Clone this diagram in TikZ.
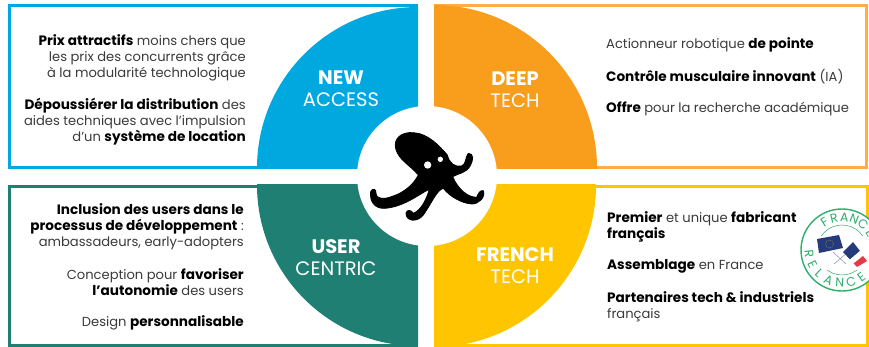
\documentclass[tikz,border=0pt]{standalone}
\usepackage{fontspec}
\setmainfont{Poppins}
\definecolor{cblue}{HTML}{00A8E0}
\definecolor{corange}{HTML}{F99D1C}
\definecolor{corangeb}{HTML}{FDAE45}
\definecolor{cgreen}{HTML}{1F7F72}
\definecolor{cyellow}{HTML}{FFC600}
\definecolor{ctxt}{HTML}{3A3A3A}
\definecolor{cfr}{HTML}{2FAE6B}
\definecolor{cnavy}{HTML}{243A7A}
\definecolor{cred}{HTML}{E63946}
\tikzset{x=1pt,y=-1pt,
  panel/.style={line width=3pt},
  body/.style={font=\fontsize{13.1}{16}\selectfont,text=ctxt,inner sep=0pt},
  bodyl/.style={body,align=left,anchor=west},
  bodyr/.style={body,align=right,anchor=east},
  head/.style={font=\fontsize{19.5}{22}\selectfont,text=white,align=center,inner sep=0pt},
  logoletter/.style={font=\fontsize{12.5}{12.5}\selectfont,text=cfr,inner sep=0pt},
}
\newcommand{\bb}[1]{{\fontsize{13.6}{16}\fontseries{b}\selectfont\color{black}#1}}
\newcommand{\wb}[1]{{\fontseries{b}\selectfont #1}}
\begin{document}
\begin{tikzpicture}
\useasboundingbox (0,0) rectangle (869,347);
% panels
\draw[panel,cblue] (9.5,6) rectangle (416.5,167.5);
\draw[panel,corangeb] (435.5,5.5) rectangle (866.5,167.5);
\draw[panel,cgreen] (9.5,186.5) rectangle (416.5,345.5);
\draw[panel,cyellow] (435.5,186.5) rectangle (867,345.5);
% quarters
\begin{scope}
\clip (250,4.5) rectangle (418,169);
\fill[cblue] (418,168) circle[radius=161];
\end{scope}
\begin{scope}
\clip (434,4) rectangle (600,169);
\fill[corange] (434,168) circle[radius=163];
\end{scope}
\begin{scope}
\clip (250,185) rectangle (418,347);
\fill[cgreen] (418,185) circle[radius=161];
\end{scope}
\begin{scope}
\clip (434,185) rectangle (600,347);
\fill[cyellow] (434,185) circle[radius=162];
\end{scope}
% centre disc
\fill[white] (427,176) circle[radius=70];
% octopus
\begin{scope}[shift={(330,110)},x=0.3333pt,y=-0.3333pt]
\filldraw[black,line width=0.8pt,line join=round] (265,195) .. controls (240,165) and (205,150) .. (197,115)
 .. controls (190,85) and (215,65) .. (250,68)
 .. controls (295,70) and (330,110) .. (352,135)
 .. controls (358,160) and (375,172) .. (395,168)
 .. controls (410,162) and (405,140) .. (415,130)
 .. controls (432,130) and (430,150) .. (422,165)
 .. controls (410,190) and (385,190) .. (368,200)
 .. controls (385,240) and (415,262) .. (440,262)
 .. controls (445,250) and (450,240) .. (460,242)
 .. controls (468,262) and (445,283) .. (425,282)
 .. controls (395,280) and (360,260) .. (340,235)
 .. controls (320,240) and (305,280) .. (280,315)
 .. controls (262,338) and (228,335) .. (228,310)
 .. controls (230,297) and (245,300) .. (250,310)
 .. controls (275,300) and (290,265) .. (298,238)
 .. controls (270,250) and (225,290) .. (165,295)
 .. controls (135,297) and (118,275) .. (122,245)
 .. controls (128,232) and (140,238) .. (138,250)
 .. controls (140,270) and (165,268) .. (190,258)
 .. controls (220,248) and (250,225) .. (265,195) -- cycle;
\fill[white] (293,165) circle[radius=11];
\fill[white] (331,148) circle[radius=8];
\end{scope}
% headings
\node[head] (na) at (341,89) {\wb{NEW}\\ACCESS};
\node[head] (dt) at (515,90) {\wb{DEEP}\\TECH};
\node[head] (uc) at (336,258) {\wb{USER}\\CENTRIC};
\node[head] (ft) at (515,266) {\wb{FRENCH}\\TECH};
% text blue
\node[bodyr] (t1) at (246,57.5) {\bb{Prix attractifs} moins chers que\\les prix des concurrents grâce\\à la modularité technologique};
\node[bodyr] (t2) at (246,121.5) {\bb{Dépoussiérer la distribution} des\\aides techniques avec l'impulsion\\d'un \bb{système de location}};
% text green
\node[bodyr] (t3) at (244,226.5) {\bb{Inclusion des users dans le}\\\bb{processus de développement} :\\ambassadeurs, early-adopters};
\node[bodyr] (t4) at (244,282.5) {Conception pour \bb{favoriser}\\\bb{l'autonomie} des users};
\node[bodyr] (t5) at (244,322.5) {Design \bb{personnalisable}};
% text orange
\node[bodyl] (t6) at (606,44.5) {Actionneur robotique \bb{de pointe}};
\node[bodyl] (t7) at (606,76.5) {\bb{Contrôle musculaire innovant} (IA)};
\node[bodyl] (t8) at (606,108.5) {\bb{Offre} pour la recherche académique};
% text yellow
\node[bodyl] (t9) at (607,226.5) {\bb{Premier} et unique \bb{fabricant}\\\bb{français}};
\node[bodyl] (t10) at (607,266.5) {\bb{Assemblage} en France};
\node[bodyl] (t11) at (607,306.5) {\bb{Partenaires tech \& industriels}\\français};
% logo
\begin{scope}
\clip (790,195) rectangle (869,310);
\fill[white] (842,250) circle[radius=41];
\draw[cfr,line width=1.4pt] (842,250) circle[radius=41];
\draw[cfr,line width=0.5pt] (842,250) circle[radius=25];
\fill[white] (812,236) rectangle (869,270);
\fill[cnavy] (817,239) -- (839,235) -- (843,248) -- (819,253) -- cycle;
\draw[yellow!70!black,line width=0.5pt,densely dotted] (829.5,244) circle[radius=4];
\draw[cnavy!50,line width=0.6pt] (833,252) -- (846,264) (848,252) -- (834,264);
\fill[cnavy] (843,252) -- (853,242) -- (860,251) -- (850,259.5) -- cycle;
\fill[white] (850,259.5) -- (860,251) -- (863,256) -- (853.5,263.5) -- cycle;
\fill[cred] (853.5,263.5) -- (863,256) -- (867,261) -- (857,267) -- cycle;
\foreach \l/\a in {F/122,R/104,A/86,N/68,C/50,E/30}
  \node[logoletter,rotate=\a-90] at ({842+33*cos(\a)},{250-33*sin(\a)}) {\l};
\foreach \l/\a in {R/186,E/206,L/226,A/246,N/266,C/286,E/306}
  \node[logoletter,rotate=\a+90] at ({842+33*cos(\a)},{250-33*sin(\a)}) {\l};
\end{scope}
\end{tikzpicture}
\end{document}
